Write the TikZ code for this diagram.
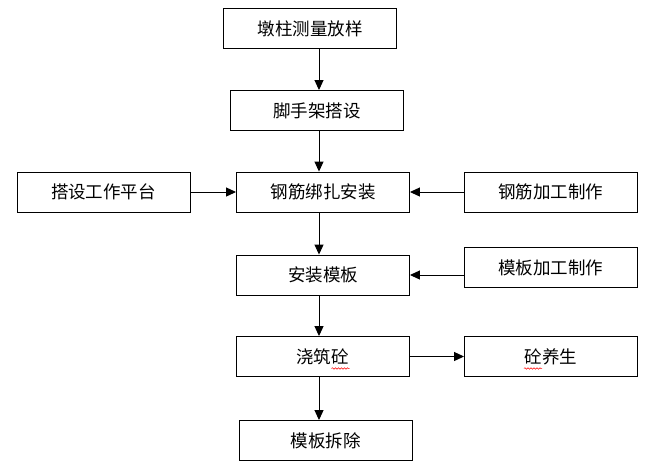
\documentclass[tikz,border=0pt]{standalone}
\usepackage{fontspec}
\setmainfont{Noto Sans CJK SC}
\usetikzlibrary{arrows.meta,decorations.pathmorphing}

\begin{document}
\begin{tikzpicture}[x=1pt,y=-1pt,
  stepbox/.style={draw,line width=0.9pt,minimum width=173pt,minimum height=40pt,inner sep=0pt,font=\fontsize{17.5}{18}\selectfont},
  flow/.style={-{Triangle[length=10pt,width=9pt]},line width=1pt},
  wavy/.style={red,line width=0.5pt,decorate,decoration={snake,amplitude=0.8pt,segment length=3pt}}]
  \useasboundingbox (0,0) rectangle (649,467);
  % main column
  \node[stepbox] (cl) at (310,28.5) {墩柱测量放样};
  \node[stepbox] (jsj) at (317,110.5) {脚手架搭设};
  \node[stepbox] (gjbz) at (323,192) {钢筋绑扎安装};
  \node[stepbox] (azmb) at (323,275) {安装模板};
  \node[stepbox] (jz) at (322.5,356.5) {浇筑砼};
  \node[stepbox] (cc) at (325.5,440.5) {模板拆除};
  % side boxes
  \node[stepbox] (pt) at (103.5,192) {搭设工作平台};
  \node[stepbox] (gjjg) at (550.5,192) {钢筋加工制作};
  \node[stepbox] (mbjg) at (550.5,267.5) {模板加工制作};
  \node[stepbox] (yh) at (551,356.5) {砼养生};
  \coordinate (spine) at (319,0);
  % vertical arrows
  \draw[flow] (cl.south -| spine) -- (jsj.north -| spine);
  \draw[flow] (jsj.south -| spine) -- (gjbz.north -| spine);
  \draw[flow] (gjbz.south -| spine) -- (azmb.north -| spine);
  \draw[flow] (azmb.south -| spine) -- (jz.north -| spine);
  \draw[flow] (jz.south -| spine) -- (cc.north -| spine);
  % horizontal arrows
  \draw[flow] (pt.east) -- (gjbz.west);
  \draw[flow] (gjjg.west) -- (gjbz.east);
  \draw[flow] (mbjg.west |- azmb.east) -- (azmb.east);
  \draw[flow] (jz.east) -- (yh.west);
  % red underlines
  \draw[wavy] ([xshift=9pt,yshift=-12pt]jz.center) -- ++(18,0);
  \draw[wavy] ([xshift=-27pt,yshift=-12pt]yh.center) -- ++(18,0);
\end{tikzpicture}
\end{document}
